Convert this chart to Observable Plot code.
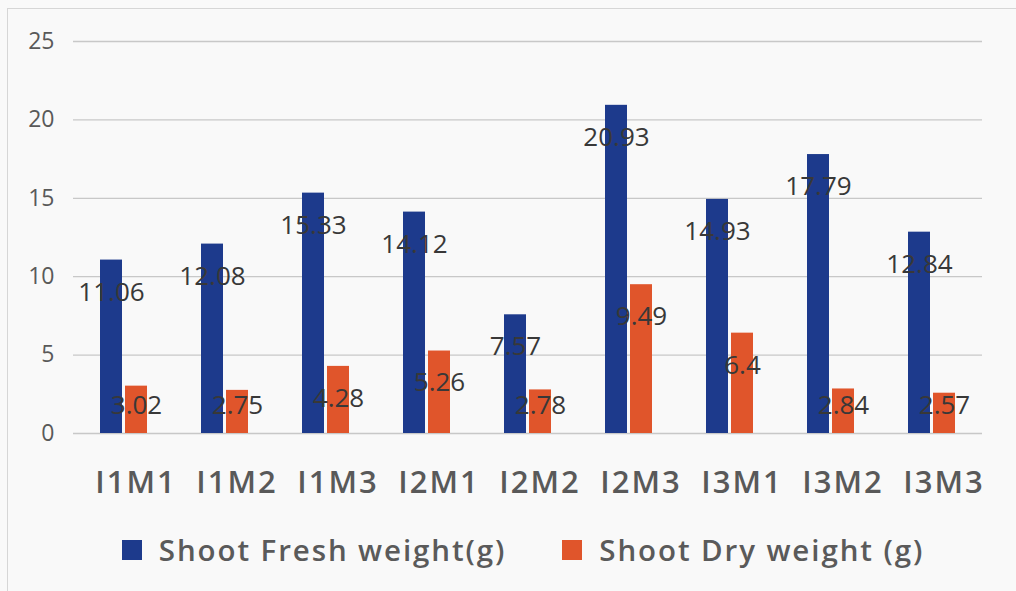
<!DOCTYPE html>
<html><head><meta charset="utf-8">
<script src="https://cdn.jsdelivr.net/npm/d3@7"></script>
<script src="https://cdn.jsdelivr.net/npm/@observablehq/plot@0.6"></script>
<style>
html,body{margin:0;padding:0;background:#fbfbfb;}
#wrap{position:relative;width:1016px;height:591px;background:#f9f9f9;overflow:hidden;}
#frame{position:absolute;left:7px;top:8px;width:1020px;height:600px;border:1px solid #d6d6d6;}
#chart{position:absolute;left:0;top:0;}
#legend{position:absolute;left:0;top:530px;width:1016px;display:flex;justify-content:center;padding-left:30px;box-sizing:border-box;
  font-family:"Open Sans",sans-serif;font-weight:600;font-size:29.5px;letter-spacing:1.9px;color:#5a5a5a;line-height:40px;}
.item{display:flex;align-items:center;margin:0 28px;}
.sw{width:20px;height:20px;margin-right:17px;}
</style></head>
<body><div id="wrap"><div id="frame"></div><div id="chart"></div>
<div id="legend"></div></div>
<script>
const categories = ["I1M1","I1M2","I1M3","I2M1","I2M2","I2M3","I3M1","I3M2","I3M3"];
const series = ["Shoot Fresh weight(g)","Shoot Dry weight (g)"];
const freshWeight = [11.06,12.08,15.33,14.12,7.57,20.93,14.93,17.79,12.84];
const dryWeight = [3.02,2.75,4.28,5.26,2.78,9.49,6.4,2.84,2.57];
const colors = ["#1d3a8c","#e0552b"];
const yTicks = [0,5,10,15,20,25];

const data = [];
categories.forEach((c,i)=>{
  data.push({cat:c, s:series[0], v:freshWeight[i]});
  data.push({cat:c, s:series[1], v:dryWeight[i]});
});

const chart = Plot.plot({
  width:1016, height:522,
  marginLeft:70, marginRight:31, marginTop:41, marginBottom:89,
  style:{background:"transparent", fontFamily:"Open Sans, sans-serif"},
  fx:{domain:categories, padding:0, label:null, axis:null},
  x:{domain:series, paddingInner:0.115, paddingOuter:1.0, axis:null},
  y:{domain:[0,25], ticks:yTicks, label:null, axis:null},
  color:{domain:series, range:colors},
  marks:[
    Plot.ruleY(yTicks,{stroke:"#c8c8c8", strokeWidth:1.3}),
    Plot.barY(data,{fx:"cat", x:"s", y:"v", fill:"s"}),
    Plot.text(data,{fx:"cat", x:"s", y:d=>Math.max(d.v-2.05,1.8), text:d=>String(d.v),
      fontSize:26, fill:"#383838", fontFamily:"Open Sans, sans-serif"}),
    Plot.axisY({ticks:yTicks, tickSize:0, tickPadding:19, fontSize:23, fill:"#595959", label:null}),
    Plot.axisFx({anchor:"bottom", tickSize:0, tickPadding:37, dx:12, fontSize:31, fontWeight:600, fill:"#595959", label:null})
  ]
});
document.getElementById("chart").appendChild(chart);
d3.select(chart).selectAll('g[aria-label="fx-axis tick label"] text').style("letter-spacing","2px");

const lg = document.getElementById("legend");
series.forEach((s,i)=>{
  const it = document.createElement("div"); it.className="item";
  const sw = document.createElement("div"); sw.className="sw"; sw.style.background=colors[i];
  const t = document.createElement("span"); t.textContent=s;
  it.appendChild(sw); it.appendChild(t); lg.appendChild(it);
});
</script></body></html>
